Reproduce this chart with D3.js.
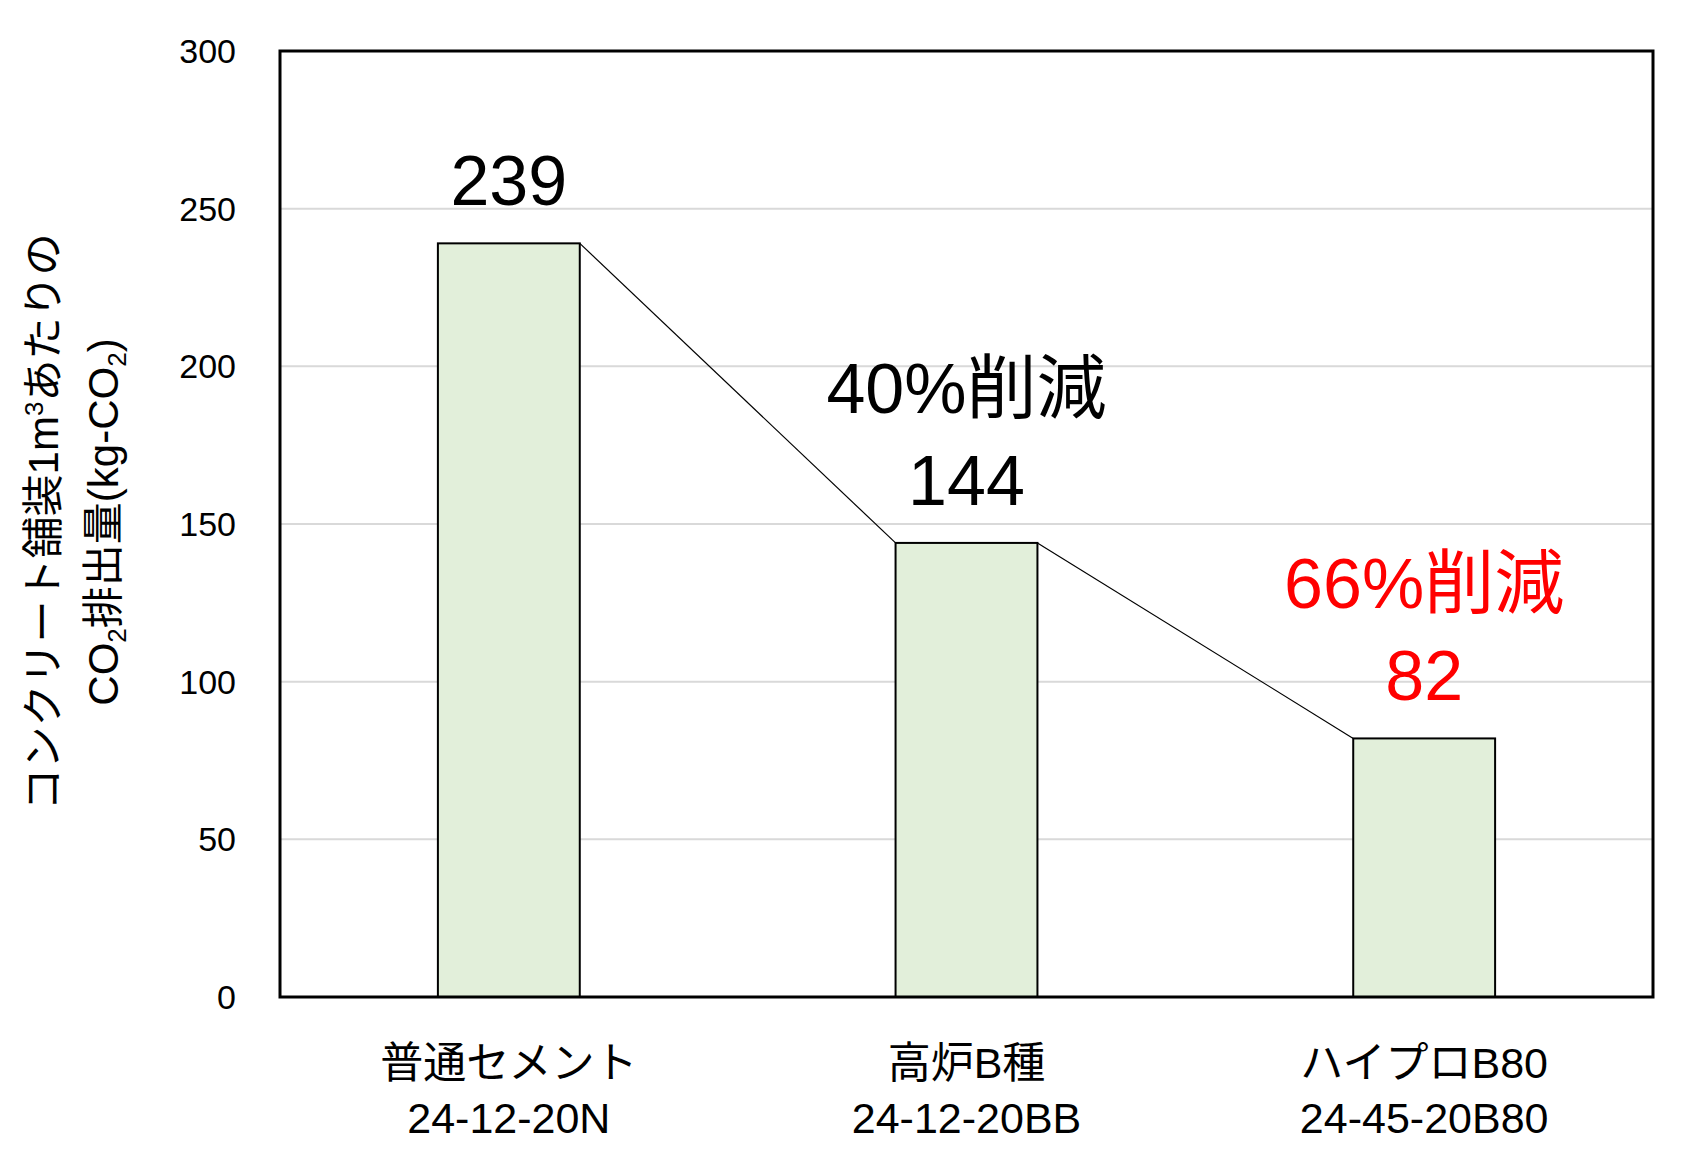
<!DOCTYPE html>
<html><head><meta charset="utf-8">
<script src="https://cdn.jsdelivr.net/npm/d3@7"></script>
<style>body{margin:0;background:#fff}text{font-family:"Liberation Sans","Noto Sans CJK JP",sans-serif}</style>
</head><body>
<svg id="c" width="1705" height="1160"></svg>
<script>
var names = ["普通セメント", "高炉B種", "ハイプロB80"];
var codes = ["24-12-20N", "24-12-20BB", "24-45-20B80"];
var values = [239, 144, 82];
var cuts = [null, "40%削減", "66%削減"];
var labelColors = ["#000", "#000", "#ff0000"];
var yTicks = [0, 50, 100, 150, 200, 250, 300];

var L = 280, R = 1653, T = 51, B = 997;
var svg = d3.select("#c");
var x = d3.scaleBand().domain(names).range([L, R]).paddingInner(0.69).paddingOuter(0.345);
var y = d3.scaleLinear().domain([0, 300]).range([B, T]);

// grid
svg.selectAll(".g").data(yTicks.slice(1, -1)).enter().append("line")
  .attr("x1", L).attr("x2", R).attr("y1", d => y(d)).attr("y2", d => y(d))
  .attr("stroke", "#d9d9d9").attr("stroke-width", 2);

svg.selectAll(".t").data(yTicks).enter().append("text")
  .attr("x", L - 44).attr("y", d => y(d) + 12).attr("text-anchor", "end")
  .attr("font-size", 34).text(d => d);

// bars
svg.selectAll(".b").data(values).enter().append("rect")
  .attr("x", (d, i) => x(names[i])).attr("width", x.bandwidth())
  .attr("y", d => y(d)).attr("height", d => B - y(d))
  .attr("fill", "#e2efda").attr("stroke", "#000").attr("stroke-width", 2);

// connector lines
for (var i = 0; i < values.length - 1; i++) {
  svg.append("line")
    .attr("x1", x(names[i]) + x.bandwidth()).attr("y1", y(values[i]))
    .attr("x2", x(names[i + 1])).attr("y2", y(values[i + 1]))
    .attr("stroke", "#000").attr("stroke-width", 1.2);
}

// value labels
values.forEach(function (v, i) {
  var cx = x(names[i]) + x.bandwidth() / 2;
  svg.append("text").attr("x", cx).attr("y", y(v) - 38).attr("text-anchor", "middle")
    .attr("font-size", 70).attr("fill", labelColors[i]).text(v);
  if (cuts[i]) svg.append("text").attr("x", cx).attr("y", y(v) - 130).attr("text-anchor", "middle")
    .attr("font-size", 70).attr("fill", labelColors[i]).text(cuts[i]);
  svg.append("text").attr("x", cx).attr("y", 1078).attr("text-anchor", "middle")
    .attr("font-size", 43).text(names[i]);
  svg.append("text").attr("x", cx).attr("y", 1133).attr("text-anchor", "middle")
    .attr("font-size", 43).text(codes[i]);
});

// frame
svg.append("rect").attr("x", L).attr("y", T).attr("width", R - L).attr("height", B - T)
  .attr("fill", "none").attr("stroke", "#000").attr("stroke-width", 3);

// y title
var yt = svg.append("g").attr("transform", "translate(0,522) rotate(-90)");
var t1 = yt.append("text").attr("x", 0).attr("y", 58).attr("text-anchor", "middle").attr("font-size", 42);
t1.append("tspan").text("コンクリート舗装1m");
t1.append("tspan").attr("font-size", 26).attr("dy", -15).text("3");
t1.append("tspan").attr("dy", 15).text("あたりの");
var t2 = yt.append("text").attr("x", 0).attr("y", 118).attr("text-anchor", "middle").attr("font-size", 42);
t2.append("tspan").text("CO");
t2.append("tspan").attr("font-size", 26).attr("dy", 8).text("2");
t2.append("tspan").attr("dy", -8).text("排出量(kg-CO");
t2.append("tspan").attr("font-size", 26).attr("dy", 8).text("2");
t2.append("tspan").attr("dy", -8).text(")");
</script>
</body></html>
